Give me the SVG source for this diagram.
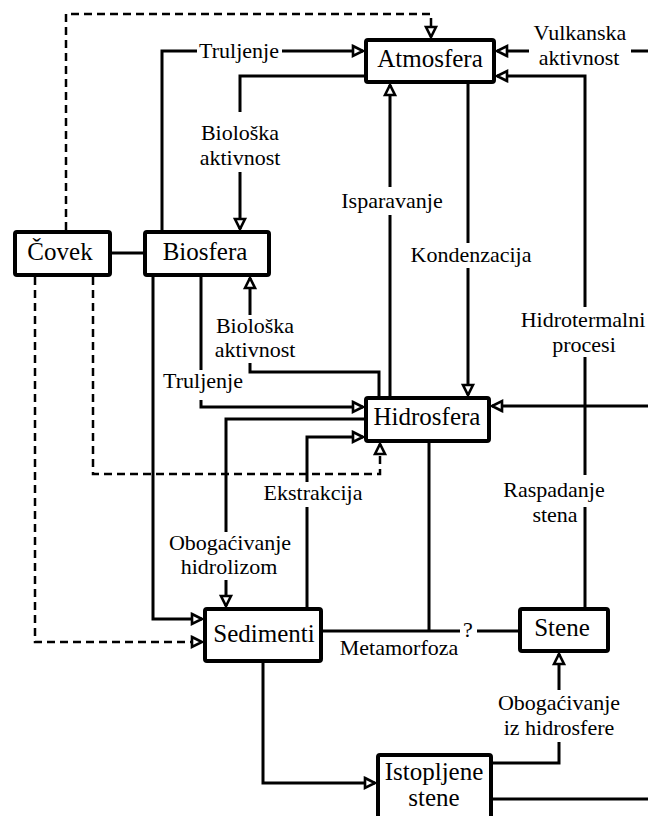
<svg xmlns="http://www.w3.org/2000/svg" width="648" height="816" viewBox="0 0 648 816">
<style>
.box{fill:#fff;stroke:#000;stroke-width:4}
.bl{font-family:"Liberation Serif","Times New Roman",serif;font-size:25px;fill:#000;text-anchor:middle}
.el{font-family:"Liberation Serif","Times New Roman",serif;font-size:22px;fill:#000;text-anchor:middle}
.c{fill:none;stroke:#000;stroke-width:3}
.d{fill:none;stroke:#000;stroke-width:2.5;stroke-dasharray:8 5}
.a{marker-end:url(#arr)}
</style>
<defs>
<marker id="arr" markerUnits="userSpaceOnUse" viewBox="0 0 14 14" markerWidth="14" markerHeight="14" refX="12" refY="7" orient="auto" overflow="visible">
<path d="M2,2 L12,7 L2,12 Z" fill="#fff" stroke="#000" stroke-width="2.6" stroke-dasharray="none" stroke-linejoin="miter"/>
</marker>
</defs>
<rect width="648" height="816" fill="#fff"/>
<g id="connectors">
<path class="d a" d="M66,230 L66,14 L431,14 L431,37"/>
<path class="c a" d="M162,230 L162,51 L197,51 M282,51 L363,51"/>
<path class="c a" d="M364,76 L240,76 L240,112 M240,172 L240,229"/>
<path class="c a" d="M468,84 L468,243 M468,268 L468,395"/>
<path class="c a" d="M390,396 L390,215 M390,187 L390,85"/>
<path class="c a" d="M648,51 L631,51 M529,51 L497,51"/>
<path class="c a" d="M585,607 L585,507 M585,475 L585,357 M585,307 L585,76 L497,76"/>
<path class="c a" d="M493,799 L648,799 M648,406 L492,406"/>
<path class="c a" d="M379,396 L379,372 L250,372 L250,363 M250,315 L250,278"/>
<path class="c a" d="M201,277 L201,370 M201,400 L201,407 L363,407"/>
<path class="c a" d="M364,419 L226,419 L226,532 M226,580 L226,606"/>
<path class="c a" d="M307,607 L307,507 M307,482 L307,437 L363,437"/>
<path class="d a" d="M93,277 L93,474 L380,474 L380,444"/>
<path class="d a" d="M35,277 L35,642 L202,642"/>
<path class="c" d="M112,253 L143,253"/>
<path class="c a" d="M153,277 L153,619 L202,619"/>
<path class="c" d="M429,443 L429,631 M322,631 L460,631 M477,631 L518,631"/>
<path class="c a" d="M263,663 L263,783 L375,783"/>
<path class="c a" d="M493,763 L559,763 L559,742 M559,690 L559,654"/>
</g>
<g id="labels">
<text class="el" x="239" y="58">Truljenje</text>
<text class="el" x="240" y="140">Biološka</text>
<text class="el" x="240" y="165">aktivnost</text>
<text class="el" x="392" y="208">Isparavanje</text>
<text class="el" x="471" y="262">Kondenzacija</text>
<text class="el" x="580" y="40">Vulkanska</text>
<text class="el" x="579" y="65">aktivnost</text>
<text class="el" x="583" y="327">Hidrotermalni</text>
<text class="el" x="584" y="352">procesi</text>
<text class="el" x="255" y="333">Biološka</text>
<text class="el" x="255" y="357">aktivnost</text>
<text class="el" x="203" y="388">Truljenje</text>
<text class="el" x="230" y="550">Obogaćivanje</text>
<text class="el" x="229" y="574">hidrolizom</text>
<text class="el" x="313" y="500">Ekstrakcija</text>
<text class="el" x="554" y="497">Raspadanje</text>
<text class="el" x="555" y="522">stena</text>
<text class="el" x="399" y="655">Metamorfoza</text>
<text class="el" x="468" y="637">?</text>
<text class="el" x="559" y="710">Obogaćivanje</text>
<text class="el" x="559" y="735">iz hidrosfere</text>
</g>
<g id="atmosfera">
<rect class="box" x="366" y="40" width="128" height="42" rx="2"/>
<text class="bl" x="430" y="67">Atmosfera</text>
</g>
<g id="covek">
<rect class="box" x="15" y="232" width="95" height="43" rx="2"/>
<text class="bl" x="60" y="260">Čovek</text>
</g>
<g id="biosfera">
<rect class="box" x="145" y="232" width="124" height="43" rx="2"/>
<text class="bl" x="205" y="260">Biosfera</text>
</g>
<g id="hidrosfera">
<rect class="box" x="366" y="398" width="123" height="43" rx="2"/>
<text class="bl" x="427" y="425">Hidrosfera</text>
</g>
<g id="sedimenti">
<rect class="box" x="205" y="609" width="116" height="52" rx="2"/>
<text class="bl" x="264" y="642">Sedimenti</text>
</g>
<g id="stene">
<rect class="box" x="520" y="609" width="88" height="42" rx="2"/>
<text class="bl" x="562" y="636">Stene</text>
</g>
<g id="istopljene">
<rect class="box" x="378" y="755" width="113" height="75" rx="2"/>
<text class="bl" x="434" y="780">Istopljene</text>
<text class="bl" x="434" y="806">stene</text>
</g>
</svg>
